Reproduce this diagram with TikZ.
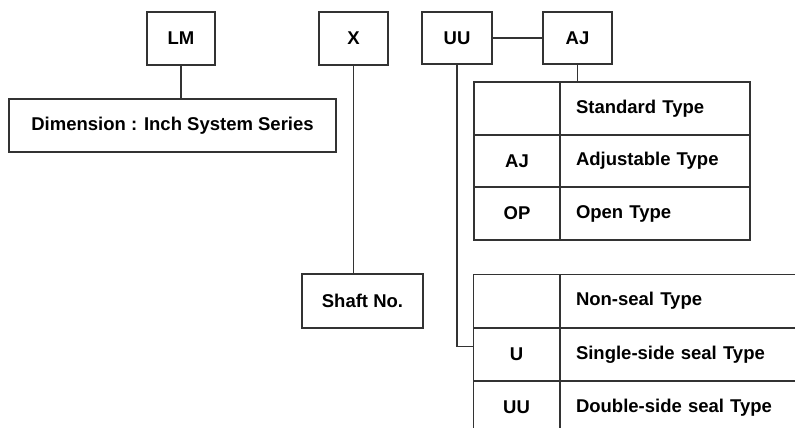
\documentclass[tikz,border=0pt]{standalone}
\usepackage{fontspec}
\setmainfont{Liberation Sans}
\usetikzlibrary{positioning}

\tikzset{
  codebox/.style={draw=black!80, line width=1.4pt, inner sep=0pt, outer sep=0pt, font=\fontsize{18.5}{22}\selectfont\bfseries},
  keycell/.style={codebox, minimum width=86pt, minimum height=53pt},
  textcell/.style={codebox, minimum height=53pt, inner xsep=16pt, align=left},
  link/.style={draw=black!80, line width=1.4pt}
}

\begin{document}
\begin{tikzpicture}[x=1pt,y=-1pt]
\useasboundingbox (0,0) rectangle (795,428);
\clip (0,0) rectangle (795,428);
% code letters
\node[codebox, minimum width=68pt, minimum height=53pt] (lm) at (181,38.5) {LM};
\node[codebox, minimum width=69pt, minimum height=53pt] (x) at (353.5,38.5) {X};
\node[codebox, minimum width=70pt, minimum height=52pt] (uu) at (457,38) {UU};
\node[codebox, minimum width=69pt, minimum height=52pt] (aj) at (577.5,38) {AJ};
% explanations
\node[codebox, minimum width=327pt, minimum height=53pt] (dim) at (172.5,125.5) {Dimension : Inch System Series};
\node[codebox, minimum width=121pt, minimum height=54pt] (shaft) at (362.5,301) {Shaft No.};
% upper table
\node[keycell] (stdkey) at (517,108.5) {};
\node[textcell, text width=158pt] (stdtxt) at (655,108.5) {Standard Type};
\node[keycell] (ajkey) at (517,161) {AJ};
\node[textcell, text width=158pt] (ajtxt) at (655,161) {Adjustable Type};
\node[keycell] (opkey) at (517,213.5) {OP};
\node[textcell, text width=158pt] (optxt) at (655,213.5) {Open Type};
% lower table
\node[keycell] (nskey) at (516.5,301) {};
\node[textcell, text width=238pt] (nstxt) at (695,301) {Non-seal Type};
\node[keycell] (ukey) at (516.5,354.5) {U};
\node[textcell, text width=238pt] (utxt) at (695,354.5) {Single-side seal Type};
\node[keycell] (uukey) at (516.5,407.5) {UU};
\node[textcell, text width=238pt] (uutxt) at (695,407.5) {Double-side seal Type};
% connectors
\draw[link] (lm.south) -- (lm.south |- dim.north);
\draw[link] (x.south) -- (x.south |- shaft.north);
\draw[link] (uu.east) -- (aj.west);
\draw[link] (aj.south) -- (aj.south |- stdkey.north);
\draw[link] (uu.south) |- ([yshift=8pt]ukey.west);
\end{tikzpicture}
\end{document}
